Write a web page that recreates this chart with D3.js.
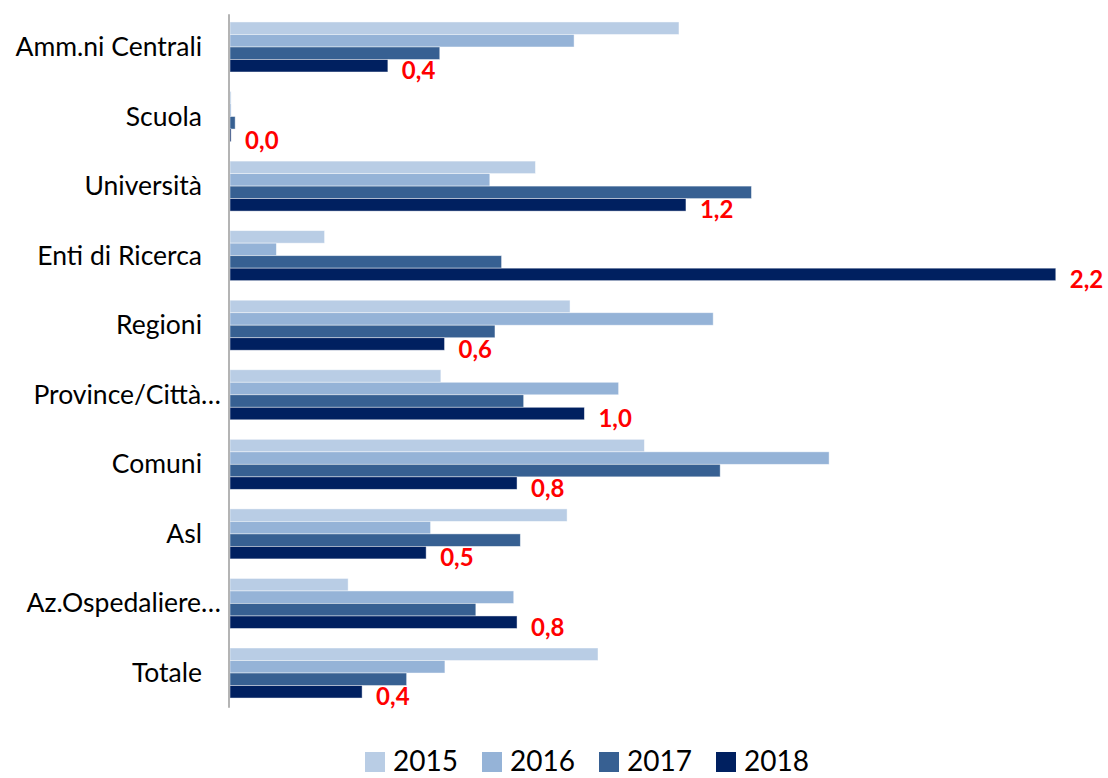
<!DOCTYPE html>
<html>
<head>
<meta charset="utf-8">
<script src="https://cdn.jsdelivr.net/npm/d3@7"></script>
<style>
  html, body { margin: 0; padding: 0; background: #fff; }
  svg { display: block; }
</style>
</head>
<body>
<svg id="chart" width="1108" height="778"></svg>
<script>
// Categories (top to bottom) and yearly series
const categories = ["Amm.ni Centrali", "Scuola", "Università", "Enti di Ricerca", "Regioni",
                    "Province/Città…", "Comuni", "Asl", "Az.Ospedaliere…", "Totale"];
const years = ["2015", "2016", "2017", "2018"];
const values2015 = [1.22, 0.003, 0.83, 0.257, 0.924, 0.573, 1.126, 0.916, 0.321, 1.0];
const values2016 = [0.935, 0.003, 0.706, 0.126, 1.313, 1.056, 1.628, 0.545, 0.771, 0.584];
const values2017 = [0.57, 0.014, 1.417, 0.738, 0.72, 0.798, 1.332, 0.789, 0.668, 0.48];
const values2018 = [0.429, 0.003, 1.239, 2.244, 0.583, 0.963, 0.78, 0.533, 0.78, 0.359];
const seriesValues = [values2015, values2016, values2017, values2018];
const labelledYear = "2018";

const colors = ["#B9CDE5", "#95B3D7", "#376092", "#002060"];
const fontFamily = "Lato, 'Open Sans', sans-serif";

const svg = d3.select("#chart");
svg.append("rect").attr("width", 1108).attr("height", 778).attr("fill", "#fff");

const plotLeft = 230;
const x = d3.scaleLinear().domain([0, 2.5]).range([plotLeft, plotLeft + 920]);

const y = d3.scaleBand()
  .domain(categories)
  .range([12.2, 707.8])
  .paddingInner(0.281)
  .paddingOuter(0.1405);

const yInner = d3.scaleBand().domain(years).range([0, y.bandwidth()]);
const color = d3.scaleOrdinal().domain(years).range(colors);

const rows = categories.map((c, i) => ({
  category: c,
  bars: years.map((yr, j) => ({ year: yr, value: seriesValues[j][i], category: c }))
}));

// Bars
const groups = svg.append("g").selectAll("g")
  .data(rows)
  .join("g")
  .attr("transform", d => `translate(0,${y(d.category)})`);

groups.selectAll("rect")
  .data(d => d.bars)
  .join("rect")
  .attr("x", x(0))
  .attr("y", d => yInner(d.year))
  .attr("width", d => Math.max(0, x(d.value) - x(0)))
  .attr("height", yInner.bandwidth())
  .attr("fill", d => color(d.year))
  .attr("stroke", "rgba(255,255,255,0.55)")
  .attr("stroke-width", 0.8);

// Value labels on the 2018 series
const fmt = v => v.toFixed(1).replace(".", ",");
groups.selectAll("text.value")
  .data(d => d.bars.filter(b => b.year === labelledYear))
  .join("text")
  .attr("class", "value")
  .attr("x", d => x(d.value) + 14)
  .attr("y", d => yInner(d.year) + yInner.bandwidth() / 2 + 5)
  .attr("dy", "0.36em")
  .attr("fill", "#FF0000")
  .attr("font-family", fontFamily)
  .attr("font-weight", "bold")
  .attr("font-size", 24)
  .text(d => fmt(d.value));

// Category axis
const yAxis = d3.axisLeft(y).tickSize(0).tickPadding(0);
const axisG = svg.append("g").attr("transform", `translate(${plotLeft - 1},0)`).call(yAxis);
axisG.select(".domain").attr("stroke", "#8c8c8c").attr("stroke-width", 1.3)
  .attr("d", `M0,${y.range()[0] + 2}V${y.range()[1]}`);
axisG.selectAll(".tick text")
  .attr("font-family", fontFamily)
  .attr("font-size", 26.5)
  .attr("fill", "#000")
  .attr("x", d => d.endsWith("…") ? -8 : -27)
  .attr("dy", "0.34em");

// Legend
const legend = svg.append("g").attr("transform", "translate(365,0)");
const item = legend.selectAll("g").data(years).join("g")
  .attr("transform", (d, i) => `translate(${i * 117},0)`);
item.append("rect")
  .attr("x", 0).attr("y", 752).attr("width", 20).attr("height", 20)
  .attr("fill", d => color(d));
item.append("text")
  .attr("x", 28).attr("y", 771)
  .attr("font-family", fontFamily)
  .attr("font-size", 28)
  .attr("fill", "#000")
  .text(d => d);
</script>
</body>
</html>
